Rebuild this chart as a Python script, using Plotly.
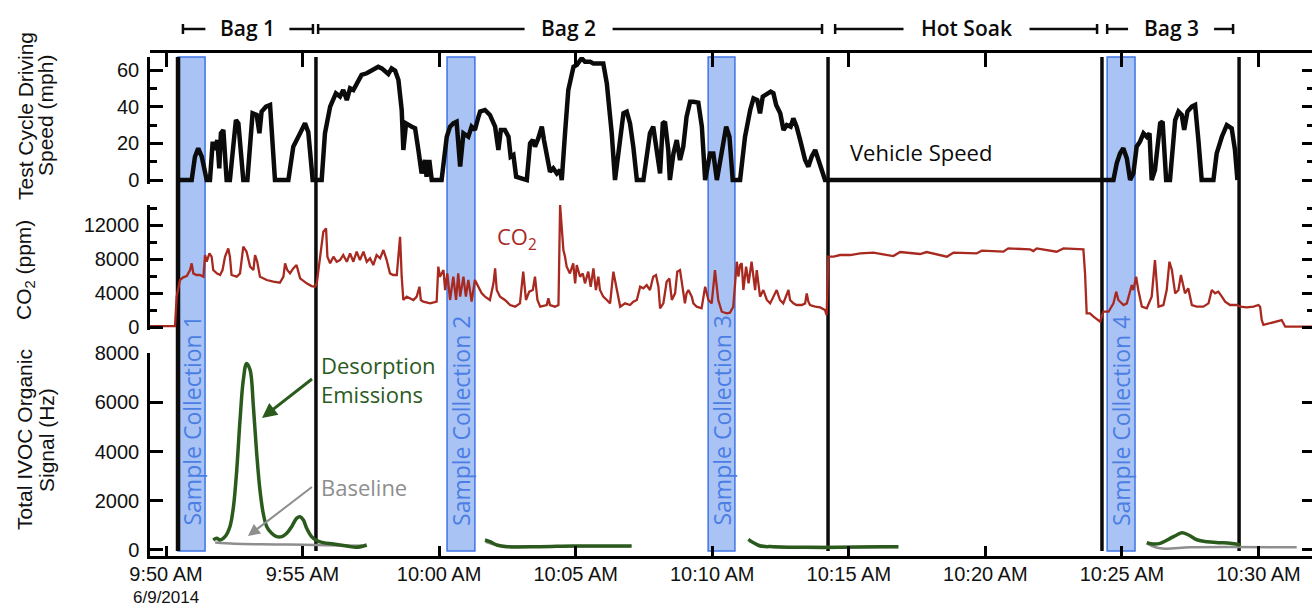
import pandas as pd
import plotly.graph_objects as go

# ---------------- data (minutes after 9:50 AM, 6/9/2014) ----------------
speed_pts = [(0.45, 0), (0.94, 0), (1.06, 12.7), (1.18, 17.3), (1.31, 12.7), (1.49, 0), (1.61, 0), (1.71, 20.9),
             (1.77, 16.4), (1.88, 21.8), (1.95, 6.4), (2.01, 25.5), (2.10, 27.3), (2.22, 0), (2.34, 0), (2.56, 32.7),
             (2.65, 30.9), (2.83, 0), (2.98, 0), (3.17, 36.4), (3.32, 35.5), (3.42, 25.5), (3.50, 37.3), (3.66, 40.0),
             (3.81, 40.9), (3.99, 0), (4.48, 0), (4.66, 18.2), (4.91, 25.5), (5.09, 30.9), (5.21, 26.0), (5.37, 0),
             (5.70, 0), (5.82, 25.5), (6.01, 40.0), (6.13, 44.5), (6.22, 47.3), (6.37, 45.5), (6.49, 49.1),
             (6.62, 43.6), (6.74, 50.0), (6.86, 49.1), (7.01, 53.6), (7.16, 57.3), (7.35, 58.2), (7.59, 60.0),
             (7.77, 61.8), (7.90, 60.9), (8.02, 59.6), (8.14, 57.8), (8.26, 60.9), (8.39, 59.6), (8.51, 54.5),
             (8.63, 38.2), (8.69, 16.4), (8.79, 30.9), (9.00, 29.1), (9.12, 28.2), (9.24, 16.4), (9.36, 3.6),
             (9.48, 10.9), (9.54, 1.8), (9.64, 10.9), (9.73, 0), (10.09, 0), (10.28, 23.6), (10.40, 29.1),
             (10.52, 30.9), (10.64, 31.8), (10.77, 7.3), (10.89, 25.5), (11.07, 23.6), (11.19, 29.1), (11.31, 27.3),
             (11.44, 34.5), (11.50, 37.3), (11.68, 38.2), (11.86, 35.5), (12.05, 29.1), (12.17, 16.4), (12.26, 27.3),
             (12.41, 27.3), (12.54, 23.6), (12.62, 12.7), (12.72, 13.6), (12.82, 1.8), (13.21, 0), (13.33, 20.0),
             (13.43, 21.8), (13.51, 18.2), (13.63, 22.7), (13.76, 29.1), (13.84, 21.8), (13.94, 12.7), (14.06, 4.5),
             (14.18, 6.4), (14.31, 3.6), (14.43, 5.5), (14.49, 0), (14.61, 25.5), (14.73, 49.1), (14.92, 61.8),
             (15.04, 62.7), (15.22, 66.4), (15.34, 64.5), (15.53, 64.5), (15.65, 63.6), (15.89, 63.6), (16.01, 63.6),
             (16.14, 52.7), (16.32, 25.5), (16.44, 0), (16.63, 21.8), (16.75, 36.4), (16.87, 37.3), (16.99, 30.9),
             (17.11, 18.2), (17.24, 0), (17.48, 0), (17.60, 10.9), (17.72, 25.5), (17.84, 29.1), (17.97, 16.4),
             (18.09, 3.6), (18.19, 30.9), (18.27, 31.8), (18.39, 16.4), (18.45, 0), (18.58, 14.5), (18.70, 21.8),
             (18.82, 10.9), (18.94, 18.2), (19.06, 34.5), (19.19, 42.7), (19.31, 42.7), (19.49, 42.2), (19.62, 29.1),
             (19.74, 0), (19.92, 14.5), (20.04, 14.5), (20.17, 0), (20.35, 16.4), (20.51, 29.1), (20.63, 23.6),
             (20.75, 0), (21.02, 0), (21.20, 23.6), (21.39, 38.2), (21.51, 44.5), (21.65, 43.6), (21.75, 36.4),
             (21.85, 45.5), (22.00, 47.3), (22.14, 48.2), (22.24, 47.3), (22.34, 40.9), (22.49, 36.4), (22.61, 27.3),
             (22.73, 30.0), (22.87, 29.1), (22.97, 33.6), (23.09, 29.1), (23.22, 21.8), (23.40, 10.9), (23.52, 7.3),
             (23.64, 12.7), (23.77, 16.4), (23.89, 10.9), (24.01, 3.6), (24.13, 0), (24.24, 0), (34.27, 0),
             (34.69, 0), (34.81, 9.1), (34.93, 14.5), (35.05, 17.3), (35.18, 11.8), (35.30, 0), (35.42, 3.6),
             (35.54, 18.2), (35.66, 20.9), (35.79, 25.5), (35.91, 23.6), (36.01, 25.5), (36.09, 0), (36.21, 5.5),
             (36.40, 30.9), (36.49, 31.8), (36.62, 0), (36.76, 0), (36.95, 32.7), (37.07, 37.3), (37.19, 35.5),
             (37.28, 27.3), (37.40, 37.3), (37.56, 40.0), (37.68, 40.9), (37.80, 21.8), (37.92, 0), (38.35, 0),
             (38.47, 14.5), (38.66, 23.6), (38.84, 30.0), (39.02, 28.2), (39.14, 16.4), (39.23, 0)]

co2_pts = [(-0.60, 100), (0.33, 100), (0.39, 3570), (0.51, 5530), (0.63, 5840), (0.76, 6000), (0.88, 6700),
           (0.94, 7490), (1.00, 6310), (1.12, 6120), (1.24, 6120), (1.37, 5920), (1.43, 8470), (1.49, 7680),
           (1.59, 8660), (1.67, 8270), (1.73, 6700), (1.86, 6310), (1.98, 6120), (2.07, 6700), (2.16, 8270),
           (2.28, 9250), (2.34, 8270), (2.40, 6120), (2.59, 5920), (2.71, 6310), (2.83, 9450), (2.95, 8860),
           (3.08, 7100), (3.20, 6700), (3.26, 8470), (3.34, 7680), (3.44, 5920), (3.69, 5530), (3.93, 5330),
           (4.17, 5210), (4.30, 5920), (4.36, 7490), (4.44, 6700), (4.54, 6310), (4.66, 6900), (4.78, 7290),
           (4.91, 5720), (5.15, 5140), (5.33, 4820), (5.46, 4740), (5.52, 5140), (5.64, 8470), (5.70, 9840),
           (5.76, 11210), (5.86, 11600), (5.91, 8270), (6.01, 7490), (6.13, 8270), (6.25, 7680), (6.37, 7880),
           (6.49, 8470), (6.62, 7680), (6.74, 8660), (6.86, 7680), (6.98, 8860), (7.10, 7880), (7.23, 8860),
           (7.35, 7680), (7.47, 8080), (7.59, 7290), (7.71, 8470), (7.84, 8080), (7.96, 9060), (8.08, 7880),
           (8.20, 6310), (8.32, 6120), (8.45, 6120), (8.57, 10620), (8.63, 5920), (8.69, 3180), (8.81, 3570),
           (8.93, 3370), (9.06, 3180), (9.18, 3570), (9.28, 4740), (9.33, 3180), (9.42, 2980), (9.67, 2780),
           (9.91, 2980), (9.97, 7100), (10.03, 5920), (10.16, 6700), (10.22, 4350), (10.30, 6310), (10.40, 3180),
           (10.52, 5920), (10.62, 3180), (10.70, 6310), (10.77, 3570), (10.89, 5920), (10.98, 3570), (11.07, 5530),
           (11.19, 2980), (11.31, 5530), (11.44, 4740), (11.56, 3960), (11.68, 3570), (11.86, 3180), (11.99, 5140),
           (12.05, 6900), (12.11, 4350), (12.23, 3570), (12.41, 3180), (12.60, 2590), (12.78, 2390), (12.96, 2780),
           (13.08, 6510), (13.18, 3180), (13.30, 4160), (13.43, 4350), (13.51, 5920), (13.60, 3180), (13.70, 2390),
           (13.94, 2590), (14.00, 3370), (14.06, 2590), (14.24, 2390), (14.37, 2590), (14.43, 14350),
           (14.49, 11800), (14.55, 9060), (14.61, 8270), (14.67, 7100), (14.79, 6310), (14.91, 7490), (14.98, 5140),
           (15.04, 7290), (15.16, 5920), (15.26, 6310), (15.34, 5140), (15.46, 6510), (15.55, 4740), (15.65, 6900),
           (15.74, 4350), (15.83, 5920), (15.89, 4350), (16.01, 3570), (16.14, 3180), (16.26, 2780), (16.38, 6510),
           (16.48, 4740), (16.63, 2390), (16.81, 2780), (16.99, 2590), (17.11, 2980), (17.24, 3180), (17.36, 4740),
           (17.48, 4550), (17.60, 4940), (17.72, 4350), (17.84, 5920), (17.94, 6120), (18.03, 4740), (18.09, 2200),
           (18.21, 2780), (18.33, 5330), (18.43, 5720), (18.52, 3180), (18.64, 3960), (18.72, 6510), (18.82, 6700),
           (18.92, 4350), (19.00, 2780), (19.06, 3960), (19.13, 4350), (19.25, 3570), (19.31, 2780), (19.43, 2390),
           (19.61, 2200), (19.74, 4740), (19.86, 3180), (19.98, 2780), (20.10, 6700), (20.22, 3180), (20.35, 1800),
           (20.53, 1610), (20.65, 1690), (20.77, 2390), (20.90, 7680), (20.96, 5920), (21.02, 7290), (21.08, 7490),
           (21.14, 4350), (21.24, 7100), (21.33, 5140), (21.44, 7680), (21.51, 5920), (21.57, 4350), (21.63, 6700),
           (21.69, 4740), (21.75, 3570), (21.87, 4350), (22.00, 3180), (22.12, 2780), (22.24, 3570), (22.36, 4350),
           (22.48, 3180), (22.60, 2780), (22.79, 4350), (22.85, 3180), (22.97, 2780), (23.09, 2590), (23.28, 2590),
           (23.40, 2780), (23.46, 3960), (23.52, 2980), (23.58, 2590), (23.77, 2390), (23.95, 2310), (24.13, 2000),
           (24.19, 1410), (24.25, 8270), (24.44, 8270), (24.68, 8470), (25.05, 8470), (25.42, 8660), (25.90, 8740),
           (26.63, 8350), (26.88, 8820), (27.61, 8590), (27.85, 8820), (28.59, 8270), (28.83, 8740), (29.68, 8660),
           (29.87, 8980), (30.66, 8860), (30.84, 9250), (31.64, 9130), (31.76, 8940), (31.88, 9250), (32.61, 8860),
           (32.86, 9250), (33.59, 9130), (33.65, 6310), (33.71, 1610), (33.83, 1610), (33.96, 1220), (34.20, 630),
           (34.32, 1800), (34.51, 1800), (34.69, 2780), (34.79, 4160), (34.87, 3180), (35.06, 2590), (35.18, 2780),
           (35.36, 4940), (35.42, 4350), (35.52, 5920), (35.60, 4350), (35.73, 2390), (35.91, 2200), (36.09, 3570),
           (36.21, 7880), (36.28, 5140), (36.34, 2390), (36.52, 2590), (36.64, 4350), (36.74, 7680), (36.83, 6700),
           (36.95, 3960), (37.07, 4350), (37.16, 6120), (37.25, 4740), (37.31, 3960), (37.43, 4550), (37.56, 2590),
           (37.74, 2390), (37.98, 2390), (38.17, 2780), (38.29, 4350), (38.41, 3960), (38.53, 4160), (38.66, 3570),
           (38.78, 2980), (38.96, 2590), (39.21, 2590), (39.33, 2390), (39.57, 2310), (39.82, 2390), (40.00, 2590),
           (40.06, 2390), (40.12, 820), (40.18, 240), (40.43, 430), (40.67, 630), (40.85, 820), (40.98, 40),
           (41.28, 40), (41.96, 40)]

# Total IVOC organic signal (Hz): desorption emissions and baselines
ivoc1_pts = [(1.73, 406), (1.86, 474), (1.98, 406), (2.16, 541), (2.34, 947), (2.47, 1759), (2.59, 3247),
             (2.71, 5277), (2.83, 6900), (2.95, 7577), (3.08, 7306), (3.20, 5818), (3.32, 3924), (3.44, 2435),
             (3.56, 1488), (3.69, 947), (3.87, 676), (4.05, 541), (4.24, 541), (4.42, 676), (4.60, 947),
             (4.78, 1285), (4.91, 1353), (5.03, 1218), (5.15, 879), (5.33, 541), (5.52, 379), (5.76, 298),
             (6.13, 244), (6.62, 162), (6.98, 108), (7.35, 203)]
ivoc2_pts = [(11.68, 406), (11.86, 338), (12.11, 203), (12.47, 135), (13.70, 135), (14.91, 162), (16.14, 162),
             (17.05, 162)]
ivoc3_pts = [(21.32, 433), (21.51, 298), (21.75, 162), (22.24, 135), (23.46, 108), (24.68, 108), (26.15, 135),
             (26.82, 135)]
ivoc4_pts = [(35.91, 298), (36.15, 244), (36.40, 271), (36.77, 474), (37.01, 609), (37.20, 704), (37.44, 609),
             (37.77, 406), (38.11, 338), (38.59, 298), (38.96, 271), (39.33, 203)]
base1_pts = [(1.80, 300), (2.50, 250), (3.50, 230), (4.50, 220), (5.50, 200), (6.50, 180), (7.30, 170)]
base2_pts = [(11.70, 330), (12.20, 180), (14.00, 150), (17.00, 150)]
base3_pts = [(21.35, 360), (21.90, 160), (24.00, 120), (26.80, 120)]
base4_pts = [(35.91, 271), (36.40, 68), (37.50, 110), (39.00, 120), (41.40, 110)]

# test-cycle phases (minutes)
bag_line_t = [0.44, 5.49, 24.24, 34.27, 39.29]
sample_start = [0.44, 10.29, 19.85, 34.46]
sample_end = [1.43, 11.31, 20.83, 35.48]
sample_names = ["Sample Collection 1", "Sample Collection 2", "Sample Collection 3", "Sample Collection 4"]
phase_names = ["Bag 1", "Bag 2", "Hot Soak", "Bag 3"]
phase_start = [0.62, 5.57, 24.50, 34.46]
phase_end = [5.38, 24.02, 34.09, 39.07]
phase_label_t = [2.98, 14.74, 29.31, 36.80]

tick_min = [0, 5, 10, 15, 20, 25, 30, 35, 40]
tick_text = ["9:50 AM", "9:55 AM", "10:00 AM", "10:05 AM", "10:10 AM", "10:15 AM", "10:20 AM", "10:25 AM", "10:30 AM"]

# ---------------- helpers ----------------
BASE = pd.Timestamp("2014-06-09 09:50:00")


def ts(m):
    return (BASE + pd.Timedelta(minutes=m)).strftime("%Y-%m-%d %H:%M:%S.%f")


def xs(pts):
    return [ts(p[0]) for p in pts]


def ys(pts):
    return [p[1] for p in pts]


W, H = 1312, 608
L, R, T, B = 150, 0, 51, 52
PW, PH = W - L - R, H - T - B
XMIN, XMAX = -0.586, 41.96
PX_PER_MIN = PW / (XMAX - XMIN)


def py(Y):  # pixel y -> paper
    return (H - B - Y) / PH


def px(X):  # pixel x -> paper
    return (X - L) / PW


BLACK = "#0b0b0b"
RED = "#a8291f"
GREEN = "#2b5a1d"
GRAY = "#8e8e8e"
BLUE_TXT = "#4b7ee4"
TICKFONT = dict(family="Liberation Sans, Arial", size=20, color="#111111")
TITLEFONT = dict(family="Liberation Sans, Arial", size=21, color="#111111")
LBLFONT = "Open Sans, Noto Sans, sans-serif"

fig = go.Figure()

fig.add_trace(go.Scatter(x=xs(speed_pts), y=ys(speed_pts), mode="lines", line=dict(color=BLACK, width=4.5),
                         xaxis="x", yaxis="y", hoverinfo="skip"))
fig.add_trace(go.Scatter(x=xs(co2_pts), y=ys(co2_pts), mode="lines", line=dict(color=RED, width=2.3),
                         xaxis="x", yaxis="y2", hoverinfo="skip"))
for bp in [base1_pts, base2_pts, base3_pts, base4_pts]:
    fig.add_trace(go.Scatter(x=xs(bp), y=ys(bp), mode="lines", line=dict(color=GRAY, width=2.5, shape="spline"),
                             xaxis="x", yaxis="y3", hoverinfo="skip"))
for gp in [ivoc1_pts, ivoc2_pts, ivoc3_pts, ivoc4_pts]:
    fig.add_trace(go.Scatter(x=xs(gp), y=ys(gp), mode="lines", line=dict(color=GREEN, width=3.5, shape="spline"),
                             xaxis="x", yaxis="y3", hoverinfo="skip"))

# dummy traces so the decorative top/right axes are drawn
fig.add_trace(go.Scatter(x=[ts(0)], y=[None], xaxis="x2", yaxis="y", hoverinfo="skip"))
for ya in ["y4", "y5", "y6"]:
    fig.add_trace(go.Scatter(x=[ts(0)], y=[None], xaxis="x", yaxis=ya, hoverinfo="skip"))

xr = [ts(XMIN), ts(XMAX)]
axis_common = dict(showgrid=False, zeroline=False, linecolor="black", linewidth=2.5, tickcolor="black",
                   tickwidth=2.5)

sp_dom = [py(183.7), py(57)]
co_dom = [py(330), py(205)]
iv_dom = [0, py(353)]
sp_rng = [-2, 67.09]
co_rng = [-350, 14353]
iv_rng = [-244, 8000]

fig.update_layout(
    width=W, height=H, margin=dict(l=L, r=R, t=T, b=B),
    paper_bgcolor="white", plot_bgcolor="white", showlegend=False,
    xaxis=dict(type="date", range=xr, domain=[0, 1], anchor="y3", tickvals=[ts(m) for m in tick_min],
               ticktext=tick_text, ticks="inside", ticklen=10, showline=True, tickfont=TICKFONT,
               ticklabelstandoff=-2, **axis_common),
    xaxis2=dict(type="date", range=xr, overlaying="x", anchor="free", position=1, side="top",
                tickvals=[ts(m) for m in tick_min], ticks="inside", ticklen=14, showline=True,
                showticklabels=False, **axis_common),
    yaxis=dict(domain=sp_dom, range=sp_rng, anchor="x", tickvals=[0, 20, 40, 60], ticks="inside", ticklen=13,
               showline=True, tickfont=TICKFONT, ticklabelstandoff=4,
               minor=dict(ticks="inside", ticklen=7, tickwidth=2.5, tickcolor="black", dtick=10, tick0=0,
                          showgrid=False), **axis_common),
    yaxis2=dict(domain=co_dom, range=co_rng, anchor="x", tickvals=[0, 4000, 8000, 12000], tickformat="d",
                ticks="inside", ticklen=13, showline=True, tickfont=TICKFONT, ticklabelstandoff=4,
                minor=dict(ticks="inside", ticklen=7, tickwidth=2.5, tickcolor="black", dtick=2000, tick0=0,
                           showgrid=False), **axis_common),
    yaxis3=dict(domain=iv_dom, range=iv_rng, anchor="x", tickvals=[0, 2000, 4000, 6000, 8000], tickformat="d",
                ticks="inside", ticklen=13, showline=True, tickfont=TICKFONT, ticklabelstandoff=4, **axis_common),
    yaxis4=dict(range=sp_rng, overlaying="y", side="right", anchor="x", tickvals=[0, 20, 40, 60], ticks="inside",
                ticklen=10, showline=False, showticklabels=False,
                minor=dict(ticks="inside", ticklen=5, tickwidth=2.5, tickcolor="black", dtick=10, tick0=0,
                           showgrid=False), **axis_common),
    yaxis5=dict(range=co_rng, overlaying="y2", side="right", anchor="x", tickvals=[0, 4000, 8000, 12000],
                ticks="inside", ticklen=10, showline=False, showticklabels=False,
                minor=dict(ticks="inside", ticklen=5, tickwidth=2.5, tickcolor="black", dtick=2000, tick0=0,
                           showgrid=False), **axis_common),
    yaxis6=dict(range=iv_rng, overlaying="y3", side="right", anchor="x", tickvals=[0, 2000, 4000, 6000, 8000],
                ticks="inside", ticklen=10, showline=False, showticklabels=False, **axis_common),
)

shapes = []
# sample-collection bands
for s, e in zip(sample_start, sample_end):
    shapes.append(dict(type="rect", xref="x", yref="paper", x0=ts(s), x1=ts(e), y0=py(551), y1=py(57),
                       fillcolor="#a9c3f5", line=dict(color="#3f74e6", width=1.5), layer="below"))
# bag boundary lines
for i, t in enumerate(bag_line_t):
    shapes.append(dict(type="line", xref="x", yref="paper", x0=ts(t), x1=ts(t), y0=py(551), y1=py(57),
                       line=dict(color=BLACK, width=4.5 if i == 0 else 3.5), layer="below"))
# phase header bars, with a gap around each label
gap_half_px = {"Bag 1": 42, "Bag 2": 44, "Hot Soak": 63, "Bag 3": 43}
for name, s, e, c in zip(phase_names, phase_start, phase_end, phase_label_t):
    g = gap_half_px[name] / PX_PER_MIN
    for a, b in [(s, c - g), (c + g, e)]:
        shapes.append(dict(type="line", xref="x", yref="paper", x0=ts(a), x1=ts(b), y0=py(29), y1=py(29),
                           line=dict(color=BLACK, width=2.5)))
    for t in (s, e):
        shapes.append(dict(type="line", xref="x", yref="paper", x0=ts(t), x1=ts(t), y0=py(24), y1=py(34),
                           line=dict(color=BLACK, width=2.5)))
fig.update_layout(shapes=shapes)

ann = []
C = dict(xanchor="center", yanchor="middle", showarrow=False)
for name, t in zip(phase_names, phase_label_t):
    ann.append(dict(x=ts(t), y=py(28), xref="x", yref="paper", text=name,
                    font=dict(family=LBLFONT, size=21, color=BLACK, weight=600), **C))
for name, s, e in zip(sample_names, sample_start, sample_end):
    ann.append(dict(x=ts((s + e) / 2), y=py(421), xref="x", yref="paper", text=name, textangle=-90,
                    font=dict(family=LBLFONT, size=23, color=BLUE_TXT), **C))
# series labels
ann.append(dict(x=ts(24.97), y=15.3, xref="x", yref="y", text="Vehicle Speed", showarrow=False, xanchor="left",
                yanchor="middle", font=dict(family=LBLFONT, size=22, color=BLACK)))
ann.append(dict(x=ts(12.85), y=10466, xref="x", yref="y2", text="CO<sub>2</sub>",
                font=dict(family=LBLFONT, size=22, color=RED), **C))
# labels with arrows: arrow head at the curve, text box anchored at the arrow tail
ann.append(dict(x=ts(3.515), y=5359, xref="x", yref="y3", text="Desorption<br>Emissions", align="left",
                showarrow=True, ax=50, ay=-39, xanchor="left", yanchor="middle", borderpad=8,
                arrowcolor=GREEN, arrowwidth=3, arrowhead=2, arrowsize=1,
                font=dict(family=LBLFONT, size=22, color=GREEN)))
ann.append(dict(x=ts(3.0), y=568, xref="x", yref="y3", text="Baseline", showarrow=True, ax=64, ay=-49,
                xanchor="left", yanchor="middle", borderpad=8, arrowcolor=GRAY, arrowwidth=2, arrowhead=2,
                arrowsize=1.2, font=dict(family=LBLFONT, size=22, color=GRAY)))
# date under first tick
ann.append(dict(x=ts(0), y=py(597.5), xref="x", yref="paper", text="6/9/2014",
                font=dict(family="Liberation Sans, Arial", size=17, color="#111111"), **C))
# axis titles
titles = [("Test Cycle Driving", 25, 116), ("Speed (mph)", 45, 116), ("CO<sub>2</sub> (ppm)", 25, 270),
          ("Total IVOC Organic", 24, 440), ("Signal (Hz)", 46, 440)]
for txt, X, Y in titles:
    ann.append(dict(x=px(X), y=py(Y), xref="paper", yref="paper", text=txt, textangle=-90, font=TITLEFONT, **C))
fig.update_layout(annotations=ann)

fig.write_html("out.html")
